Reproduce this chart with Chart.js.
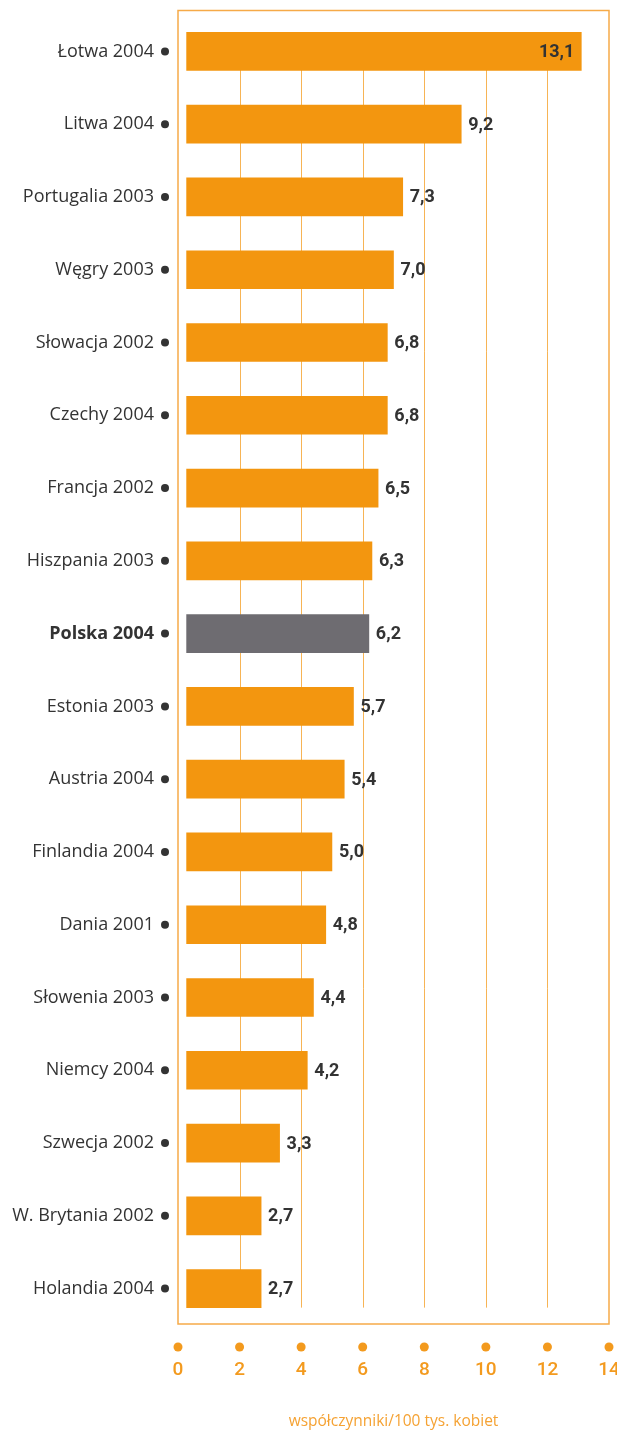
<!DOCTYPE html>
<html>
<head>
<meta charset="utf-8">
<script src="https://cdn.jsdelivr.net/npm/chart.js@4"></script>
<style>
  html, body { margin: 0; padding: 0; background: #fff; }
  .chart-wrapper { width: 617px; height: 1432px; position: relative; }
</style>
</head>
<body>
<div class="chart-wrapper"><canvas id="chart"></canvas></div>
<script>
// data
const countries = [
  "Łotwa 2004", "Litwa 2004", "Portugalia 2003", "Węgry 2003", "Słowacja 2002",
  "Czechy 2004", "Francja 2002", "Hiszpania 2003", "Polska 2004", "Estonia 2003",
  "Austria 2004", "Finlandia 2004", "Dania 2001", "Słowenia 2003", "Niemcy 2004",
  "Szwecja 2002", "W. Brytania 2002", "Holandia 2004"
];
const rates = [13.1, 9.2, 7.3, 7.0, 6.8, 6.8, 6.5, 6.3, 6.2, 5.7, 5.4, 5.0, 4.8, 4.4, 4.2, 3.3, 2.7, 2.7];
const highlighted = "Polska 2004";
const axisTitle = "współczynniki/100 tys. kobiet";

const ORANGE = "#F3960F";
const GREY = "#6E6C71";
const LINE_ORANGE = "#F7B455";
const LABEL_ORANGE = "#F39A1E";
const DARK = "#333333";

// keep the plot area where the frame is in the original
const noPadding = (scale) => {
  scale.paddingTop = 0;
  scale.paddingBottom = 0;
  scale.paddingLeft = 0;
  scale.paddingRight = 0;
};

// frame, vertical grid lines between first and last bar, dots next to tick labels
const decorations = {
  id: "decorations",
  beforeDatasetsDraw(chart) {
    const { ctx, chartArea } = chart;
    const x = chart.scales.x;
    const y = chart.scales.y;
    const bars = chart.getDatasetMeta(0).data;
    const first = bars[0];
    const last = bars[bars.length - 1];
    const top = first.y - first.height / 2;
    const bottom = last.y + last.height / 2;

    ctx.save();
    ctx.strokeStyle = LINE_ORANGE;
    ctx.lineWidth = 1;
    x.ticks.forEach(t => {
      if (t.value <= x.min || t.value >= x.max) return;
      const px = Math.round(x.getPixelForValue(t.value)) + 0.5;
      ctx.beginPath();
      ctx.moveTo(px, top);
      ctx.lineTo(px, bottom);
      ctx.stroke();
    });

    ctx.strokeStyle = "#F6AA48";
    ctx.lineWidth = 1.5;
    ctx.strokeRect(chartArea.left, chartArea.top - 4.5, chartArea.right - chartArea.left, chartArea.bottom - chartArea.top + 3.5);

    ctx.fillStyle = LABEL_ORANGE;
    x.ticks.forEach(t => {
      ctx.beginPath();
      ctx.arc(x.getPixelForValue(t.value), chartArea.bottom + 22, 4.5, 0, Math.PI * 2);
      ctx.fill();
    });

    ctx.fillStyle = DARK;
    countries.forEach((c, i) => {
      ctx.beginPath();
      ctx.arc(chartArea.left - 13, y.getPixelForValue(i), 4, 0, Math.PI * 2);
      ctx.fill();
    });
    ctx.restore();
  },
  afterDatasetsDraw(chart) {
    const { ctx } = chart;
    const bars = chart.getDatasetMeta(0).data;
    ctx.save();
    ctx.font = "bold 18px Roboto, sans-serif";
    ctx.fillStyle = DARK;
    ctx.textBaseline = "middle";
    bars.forEach((bar, i) => {
      const text = rates[i].toFixed(1).replace(".", ",");
      if (rates[i] > 12) {
        ctx.textAlign = "right";
        ctx.fillText(text, bar.x - 7, bar.y + 1);
      } else {
        ctx.textAlign = "left";
        ctx.fillText(text, bar.x + 7, bar.y + 1);
      }
    });
    ctx.restore();
  }
};

new Chart(document.getElementById("chart"), {
  type: "bar",
  data: {
    labels: countries,
    datasets: [{
      data: rates,
      base: 0.28,
      backgroundColor: countries.map(c => c === highlighted ? GREY : ORANGE),
      borderWidth: 0,
      barThickness: 38
    }]
  },
  options: {
    indexAxis: "y",
    responsive: true,
    maintainAspectRatio: false,
    animation: false,
    layout: { padding: { left: 0, right: 8, top: 15, bottom: 0 } },
    plugins: {
      legend: { display: false },
      tooltip: { enabled: false }
    },
    scales: {
      x: {
        min: 0,
        max: 14,
        afterFit: scale => { scale.height = 107; noPadding(scale); },
        grid: { display: false, drawTicks: false },
        border: { display: false },
        ticks: {
          stepSize: 2,
          maxRotation: 0,
          padding: 34,
          color: LABEL_ORANGE,
          font: { family: "Roboto, sans-serif", size: 19, weight: 500 }
        },
        title: {
          display: true,
          text: axisTitle,
          color: "#F5A233",
          font: { family: "'Open Sans', sans-serif", size: 15.5 },
          padding: { top: 0, bottom: 1 }
        }
      },
      y: {
        afterFit: scale => { scale.width = 178; noPadding(scale); },
        grid: { display: false, drawTicks: false },
        border: { display: false },
        ticks: {
          padding: 24,
          color: DARK,
          font: ctx => ({
            family: "'Open Sans', sans-serif",
            size: 18,
            weight: countries[ctx.index] === highlighted ? "bold" : "normal"
          })
        }
      }
    }
  },
  plugins: [decorations]
});
</script>
</body>
</html>
